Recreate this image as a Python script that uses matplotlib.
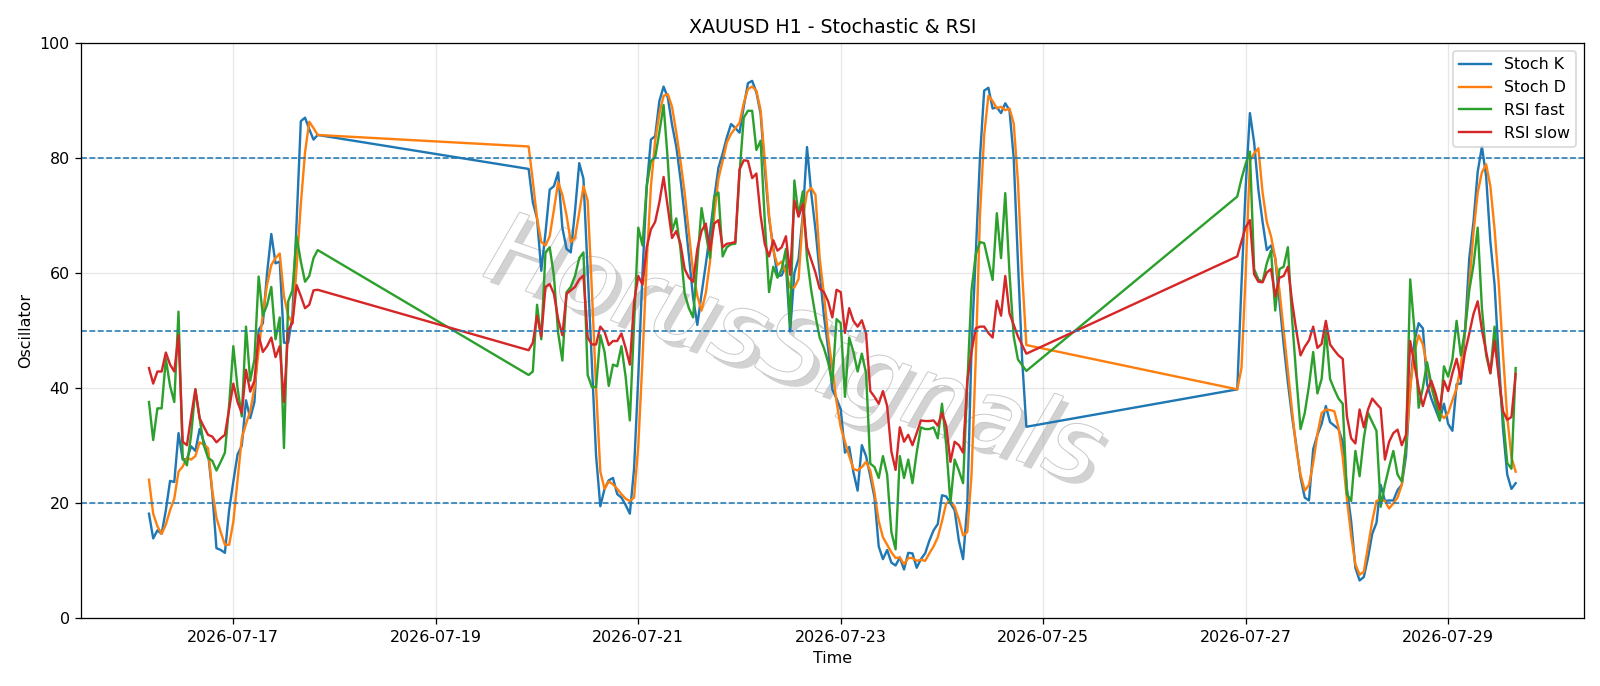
import pandas as pd
import matplotlib
matplotlib.use("Agg")
import matplotlib.pyplot as plt
import matplotlib.dates as mdates
import matplotlib.patheffects as pe

# hourly bars, three trading blocks (weekend gaps in between)
seg_starts = ["2026-07-16 04:00", "2026-07-19 22:00", "2026-07-26 22:00"]

stoch_k_1 = [18.2, 13.9, 15.3, 14.7, 18.8, 23.9, 23.7, 32.2, 27.6, 27.7, 29.9, 29.1, 32.9, 30.7,
             28.8, 21.9, 12.2, 11.9, 11.4, 18.8, 23.8, 28.5, 30.0, 37.9, 34.8, 37.6, 50.1, 51.3,
             60.0, 66.8, 61.7, 62.0, 47.9, 47.9, 52.6, 68.9, 86.4, 87.0, 85.0, 83.2, 84.0]
stoch_k_2 = [78.1, 72.3, 69.5, 60.4, 67.0, 74.5, 75.1, 77.5, 67.9, 64.2, 63.6, 70.8, 79.1, 76.4,
             60.3, 44.3, 28.2, 19.5, 22.5, 24.0, 24.4, 21.6, 21.0, 19.7, 18.2, 26.0, 42.0, 60.0,
             75.0, 83.2, 83.8, 89.9, 92.4, 90.5, 85.8, 82.0, 76.4, 70.0, 63.0, 55.7, 51.0, 56.4,
             61.5, 67.0, 73.0, 78.3, 80.8, 83.6, 85.9, 85.2, 84.4, 88.9, 93.0, 93.4, 91.4, 87.7,
             78.0, 69.5, 64.5, 59.5, 59.6, 61.4, 49.9, 60.0, 62.5, 70.1, 81.9, 73.9, 67.6, 60.1,
             52.6, 47.0, 39.8, 38.2, 36.3, 28.8, 29.8, 25.4, 22.2, 30.1, 28.2, 24.7, 21.0, 12.5,
             10.3, 11.9, 9.7, 9.2, 10.6, 8.5, 11.4, 11.3, 8.8, 10.3, 11.3, 13.5, 15.3, 16.4,
             21.4, 21.2, 20.0, 18.8, 13.5, 10.3, 19.7, 47.0, 63.2, 80.0, 91.7, 92.2, 88.6, 88.8,
             87.8, 89.5, 88.3, 80.0, 62.0, 45.0, 33.3]
stoch_k_3 = [39.8, 58.0, 75.0, 87.8, 82.7, 74.5, 68.9, 64.0, 64.8, 62.6, 55.1, 47.6, 41.0, 35.0,
             30.0, 24.5, 21.0, 20.5, 29.4, 31.9, 33.8, 36.9, 34.1, 33.5, 32.9, 30.7, 22.5, 16.9,
             8.8, 6.6, 7.2, 10.6, 14.7, 16.6, 23.2, 20.4, 20.5, 20.5, 22.3, 23.2, 28.2, 40.1,
             48.2, 51.3, 50.4, 40.7, 38.2, 36.3, 34.4, 37.3, 33.8, 32.6, 40.7, 40.8, 50.1, 62.6,
             68.9, 77.6, 82.0, 76.8, 65.5, 58.0, 45.0, 33.0, 25.0, 22.5, 23.5]

stoch_d_1 = [24.1, 18.2, 16.0, 14.7, 16.3, 18.8, 20.8, 25.5, 26.4, 27.9, 27.6, 28.2, 30.6, 30.2,
             29.6, 22.2, 17.5, 15.0, 12.8, 12.8, 16.8, 24.0, 31.3, 33.8, 36.0, 40.1, 46.5, 53.0,
             58.0, 61.4, 62.6, 63.4, 56.0, 52.6, 51.3, 61.0, 72.0, 81.0, 86.3, 85.2, 84.0]
stoch_d_2 = [82.0, 76.0, 69.5, 65.4, 64.8, 66.4, 71.0, 75.8, 73.6, 70.0, 65.4, 66.1, 70.5, 75.1,
             72.6, 57.0, 40.0, 25.5, 22.5, 23.8, 23.3, 22.5, 21.6, 20.8, 20.4, 21.0, 30.0, 45.0,
             62.0, 75.1, 83.0, 87.7, 90.8, 91.1, 88.9, 84.5, 79.5, 73.9, 67.0, 60.1, 56.0, 53.5,
             56.5, 62.0, 70.1, 76.4, 79.5, 82.7, 84.2, 85.2, 86.1, 89.5, 92.0, 92.4, 91.7, 88.3,
             79.5, 70.1, 63.9, 61.4, 62.0, 60.1, 57.5, 57.5, 59.0, 69.5, 74.0, 74.8, 73.6, 62.6,
             56.4, 48.9, 43.5, 37.6, 33.2, 30.7, 28.2, 26.0, 25.7, 26.3, 27.2, 25.7, 21.9, 16.9,
             14.1, 12.8, 11.5, 10.5, 10.6, 9.4, 10.5, 10.5, 10.0, 10.2, 10.0, 11.3, 12.5, 14.1,
             16.9, 20.0, 20.4, 19.4, 17.2, 14.4, 15.0, 25.0, 45.0, 70.0, 84.0, 90.8, 89.9, 88.6,
             88.9, 88.3, 88.6, 86.0, 76.0, 60.0, 47.5]
stoch_d_3 = [39.8, 43.5, 60.0, 79.5, 80.8, 81.7, 74.0, 68.9, 66.4, 62.6, 57.0, 50.0, 43.0, 36.0,
             29.5, 25.0, 22.2, 23.2, 27.0, 32.0, 35.7, 36.3, 36.2, 36.0, 33.2, 28.0, 20.7, 14.4,
             9.4, 7.6, 8.1, 12.5, 16.9, 20.4, 20.7, 20.4, 19.1, 20.0, 21.0, 23.2, 30.0, 40.0,
             46.3, 49.2, 47.6, 43.8, 40.1, 37.6, 35.7, 34.8, 35.7, 37.9, 40.0, 44.0, 50.0, 58.0,
             67.0, 74.0, 77.5, 78.9, 75.1, 67.6, 58.0, 46.0, 35.0, 28.0, 25.5]

rsi_fast_1 = [37.6, 31.0, 36.5, 36.5, 45.1, 40.4, 37.6, 53.3, 27.9, 26.6, 31.9, 39.8, 34.8, 30.1,
              27.9, 27.4, 25.7, 27.2, 28.8, 37.0, 47.3, 40.0, 35.1, 50.7, 41.3, 45.0, 59.4, 52.6,
              54.5, 57.6, 48.5, 52.3, 29.6, 55.1, 57.0, 66.4, 62.0, 58.5, 59.5, 62.6, 64.0]
rsi_fast_2 = [42.3, 42.9, 54.5, 48.5, 63.6, 64.5, 59.5, 49.6, 44.8, 56.7, 57.6, 59.5, 62.6, 63.6,
              42.3, 40.2, 40.2, 49.2, 46.3, 40.4, 44.1, 43.8, 47.3, 42.0, 34.4, 51.3, 67.9, 64.8,
              75.1, 79.5, 80.1, 84.5, 89.2, 79.5, 67.3, 69.5, 64.2, 56.4, 53.9, 52.3, 62.0, 71.3,
              67.0, 62.6, 73.3, 74.0, 62.9, 64.5, 65.0, 65.1, 77.3, 87.0, 88.2, 88.2, 81.4, 83.0,
              68.9, 56.7, 61.1, 59.2, 60.7, 64.2, 50.7, 76.1, 70.0, 74.2, 62.6, 57.0, 52.6, 48.8,
              47.0, 44.5, 41.0, 52.0, 51.3, 38.5, 48.8, 46.3, 42.9, 46.0, 42.6, 26.9, 26.3, 24.4,
              28.2, 25.0, 15.0, 12.0, 28.2, 24.4, 27.6, 23.5, 28.8, 33.2, 32.9, 32.9, 33.2, 31.3,
              37.3, 30.1, 20.0, 27.6, 25.7, 23.5, 40.7, 57.0, 63.2, 65.4, 65.2, 62.0, 58.8, 70.4,
              62.6, 73.9, 60.0, 49.0, 45.0, 44.0, 43.0]
rsi_fast_3 = [73.3, 76.4, 79.0, 81.1, 60.7, 58.9, 58.5, 61.7, 63.9, 53.5, 60.7, 61.1, 64.5, 52.0,
              42.0, 32.9, 35.7, 40.4, 46.3, 39.1, 41.6, 50.1, 41.6, 39.8, 38.2, 37.3, 21.6, 20.4,
              29.1, 24.7, 31.3, 35.7, 34.1, 32.6, 19.4, 23.2, 26.3, 29.1, 25.0, 23.8, 30.0, 58.9,
              50.1, 36.6, 40.1, 44.5, 40.7, 37.6, 34.4, 43.8, 42.0, 45.0, 51.7, 45.7, 50.1, 57.0,
              61.4, 67.9, 53.9, 45.7, 42.6, 50.7, 42.0, 35.0, 27.0, 26.0, 43.5]

rsi_slow_1 = [43.5, 40.8, 42.9, 42.9, 46.2, 44.1, 42.9, 49.2, 30.7, 30.1, 35.1, 39.8, 34.8, 33.3,
              31.9, 31.6, 30.6, 31.3, 31.9, 36.3, 40.8, 37.6, 35.7, 43.2, 39.4, 41.3, 49.2, 46.3,
              47.3, 48.8, 45.4, 47.3, 37.6, 50.1, 51.3, 57.9, 56.0, 53.9, 54.5, 57.0, 57.1]
rsi_slow_2 = [46.6, 47.9, 52.6, 49.0, 57.6, 58.1, 56.4, 52.0, 49.2, 56.4, 57.0, 57.6, 58.9, 59.6,
              48.8, 47.6, 47.6, 50.7, 49.8, 47.5, 48.2, 48.2, 49.5, 47.0, 44.1, 55.0, 59.5, 58.0,
              64.5, 67.6, 68.9, 72.3, 76.7, 71.4, 66.1, 67.3, 65.1, 60.7, 59.2, 58.5, 64.2, 67.3,
              68.6, 63.9, 68.6, 69.2, 64.5, 65.1, 65.2, 65.4, 78.0, 79.6, 79.5, 76.5, 77.3, 70.0,
              65.0, 62.9, 65.7, 63.9, 64.5, 66.4, 59.7, 72.6, 69.8, 72.0, 64.5, 62.3, 60.1, 57.3,
              56.7, 55.1, 52.3, 57.1, 56.7, 49.6, 53.9, 51.7, 50.7, 51.8, 49.5, 39.5, 38.5, 37.3,
              39.5, 36.9, 29.0, 25.8, 33.2, 30.7, 31.9, 30.1, 32.2, 34.4, 34.3, 34.3, 34.4, 33.5,
              35.7, 33.5, 27.2, 30.7, 30.1, 28.8, 41.3, 46.3, 50.4, 50.7, 50.7, 49.6, 48.8, 55.2,
              52.6, 59.5, 53.0, 51.0, 49.0, 47.5, 46.0]
rsi_slow_3 = [62.9, 65.5, 68.0, 69.2, 59.8, 58.5, 58.4, 60.1, 60.7, 56.0, 59.2, 59.5, 61.1, 55.0,
              50.0, 45.7, 47.2, 48.3, 50.7, 47.0, 47.7, 51.7, 47.6, 46.6, 45.7, 45.1, 35.1, 31.3,
              30.4, 36.3, 33.2, 36.3, 38.2, 37.3, 36.5, 27.6, 30.7, 32.2, 32.8, 30.1, 31.9, 48.2,
              44.1, 40.1, 36.9, 39.5, 41.3, 39.1, 36.3, 41.3, 39.5, 42.6, 45.1, 41.6, 46.3, 49.5,
              52.9, 55.1, 50.1, 46.3, 42.6, 48.2, 42.0, 36.0, 34.5, 35.0, 42.5]

k_segs = [stoch_k_1, stoch_k_2, stoch_k_3]
time = pd.DatetimeIndex([])
for start, seg in zip(seg_starts, k_segs):
    time = time.append(pd.date_range(start, periods=len(seg), freq="h"))

df = pd.DataFrame({
    "stoch_k": stoch_k_1 + stoch_k_2 + stoch_k_3,
    "stoch_d": stoch_d_1 + stoch_d_2 + stoch_d_3,
    "rsi_fast": rsi_fast_1 + rsi_fast_2 + rsi_fast_3,
    "rsi_slow": rsi_slow_1 + rsi_slow_2 + rsi_slow_3,
}, index=time)

DPI = 1600 / 14
fig, ax = plt.subplots(figsize=(14, 686 / DPI), dpi=DPI)
fig.subplots_adjust(left=0.0504, right=0.99, top=0.9375, bottom=0.0985)

ax.text(0.474, 0.46, "HorusSignals", transform=ax.transAxes, fontsize=62, style="italic",
        color="white", rotation=-19, ha="center", va="center", zorder=0,
        path_effects=[pe.withSimplePatchShadow(offset=(4, -4), shadow_rgbFace="#b4b4b4", alpha=0.6),
                      pe.Stroke(linewidth=1.2, foreground="#c8c8c8"), pe.Normal()])

ax.plot(df.index, df["stoch_k"], label="Stoch K")
ax.plot(df.index, df["stoch_d"], label="Stoch D")
ax.plot(df.index, df["rsi_fast"], label="RSI fast")
ax.plot(df.index, df["rsi_slow"], label="RSI slow")

for level in [80, 50, 20]:
    ax.axhline(level, linestyle="--", linewidth=1)

ax.set_ylim(0, 100)
ax.set_title("XAUUSD H1 - Stochastic & RSI")
ax.set_xlabel("Time")
ax.set_ylabel("Oscillator")
ax.xaxis.set_major_locator(mdates.DayLocator(bymonthday=range(1, 32, 2)))
ax.xaxis.set_major_formatter(mdates.DateFormatter("%Y-%m-%d"))
ax.grid(True, alpha=0.3)
ax.legend(loc="upper right")

fig.savefig("out.png", dpi=DPI)
